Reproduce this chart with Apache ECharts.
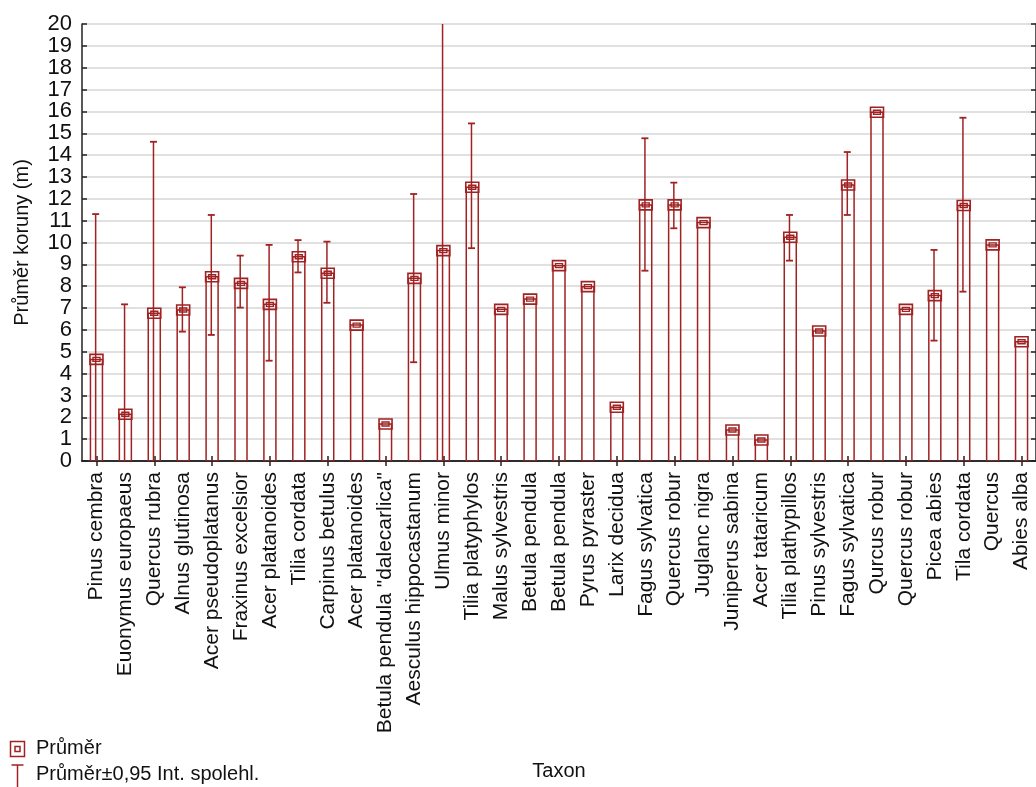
<!DOCTYPE html>
<html>
<head>
<meta charset="utf-8">
<script src="https://cdn.jsdelivr.net/npm/echarts@6/dist/echarts.min.js"></script>
<style>
html,body{margin:0;padding:0;background:#fff;}
#c{width:1036px;height:787px;}
</style>
</head>
<body>
<div id="c"></div>
<script>
// ---- data ----
var categories = ["Pinus cembra","Euonymus europaeus","Quercus rubra","Alnus glutinosa","Acer pseudoplatanus","Fraxinus excelsior","Acer platanoides","Tilia cordata","Carpinus betulus","Acer platanoides","Betula pendula \"dalecarlica\"","Aesculus hippocastanum","Ulmus minor","Tilia platyphylos","Malus sylvestris","Betula pendula","Betula pendula","Pyrus pyraster","Larix decidua","Fagus sylvatica","Quercus robur","Juglanc nigra","Juniperus sabina","Acer tataricum","Tilia plathypillos","Pinus sylvestris","Fagus sylvatica","Qurcus robur","Quercus robur","Picea abies","Tila cordata","Quercus","Abies alba"];
var means = [4.65,2.14,6.76,6.91,8.43,8.13,7.17,9.35,8.59,6.22,1.69,8.36,9.63,12.53,6.94,7.41,8.94,7.98,2.46,11.72,11.72,10.91,1.42,0.96,10.24,5.95,12.63,15.96,6.94,7.57,11.69,9.89,5.46];
var ciLow = [-2.0,-2.9,-1.1,5.92,5.77,7.02,4.59,8.63,7.24,null,null,4.52,-5.7,9.74,null,null,null,null,null,8.71,10.65,null,null,null,9.17,null,11.26,null,null,5.51,7.75,null,null];
var ciHigh = [11.3,7.17,14.61,7.95,11.26,9.40,9.89,10.11,10.04,null,null,12.22,25.0,15.45,null,null,null,null,null,14.77,12.74,null,null,null,11.26,null,14.14,null,null,9.66,15.71,null,null];
var yTicks = [0,1,2,3,4,5,6,7,8,9,10,11,12,13,14,15,16,17,18,19,20];

var C = '#a02222';
var FONT = "'Liberation Sans', Arial, sans-serif";

var meanData = means.map(function(m,i){return [i,m];});
var ciData = [];
for (var i=0;i<means.length;i++){ if(ciLow[i]!==null && ciHigh[i]!==null) ciData.push([i,ciLow[i],ciHigh[i]]); }

var chart = echarts.init(document.getElementById('c'));
var option = {
  animation:false,
  backgroundColor:'#fff',
  grid:{left:82, top:24, width:957, height:437, containLabel:false},
  xAxis:[{
    type:'category', data:categories, position:'bottom',
    boundaryGap:true,
    axisLine:{show:true, lineStyle:{color:'#222', width:1.5}},
    axisTick:{show:true, inside:true, interval:1, alignWithLabel:true, length:5, lineStyle:{color:'#222', width:1.5}},
    axisLabel:{interval:0, rotate:90, margin:11, fontSize:21, color:'#111', fontFamily:FONT},
    splitLine:{show:false},
    name:'Taxon', nameLocation:'middle', nameGap:300,
    nameTextStyle:{fontSize:20, color:'#111', fontFamily:FONT}
  },{
    type:'category', data:categories, position:'top',
    boundaryGap:true,
    axisLine:{show:true, lineStyle:{color:'#222', width:1.5}},
    axisTick:{show:true, inside:true, interval:1, alignWithLabel:true, length:5, lineStyle:{color:'#222', width:1.5}},
    axisLabel:{show:false}, splitLine:{show:false}
  }],
  yAxis:[{
    type:'value', min:0, max:20, interval:1, position:'left',
    axisLine:{show:true, lineStyle:{color:'#222', width:1.5}},
    axisTick:{show:true, inside:true, length:5, lineStyle:{color:'#222', width:1.5}},
    axisLabel:{margin:10, fontSize:22, color:'#111', fontFamily:FONT,
      formatter:function(v){return yTicks.indexOf(v)>=0 ? String(v) : '';}},
    splitLine:{show:true, lineStyle:{color:'#d6d6d6', width:1.5}},
    name:'Průměr koruny (m)', nameLocation:'middle', nameRotate:90, nameGap:50,
    nameTextStyle:{fontSize:20, color:'#111', fontFamily:FONT}
  },{
    type:'value', min:0, max:20, interval:1, position:'right',
    axisLine:{show:true, lineStyle:{color:'#222', width:1.5}},
    axisTick:{show:true, inside:true, length:5, lineStyle:{color:'#222', width:1.5}},
    axisLabel:{show:false}, splitLine:{show:false}
  }],
  series:[{
    name:'Průměr', type:'custom', xAxisIndex:0, yAxisIndex:0, clip:true,
    data:meanData,
    renderItem:function(params, api){
      var idx = api.value(0), m = api.value(1);
      var base = api.coord([idx,0]), top = api.coord([idx,m]);
      var w = 12;
      return {type:'group', children:[
        {type:'rect', shape:{x:base[0]-w/2, y:top[1], width:w, height:base[1]-top[1]},
          style:{fill:'none', stroke:C, lineWidth:1.5}},
        {type:'rect', shape:{x:top[0]-6.5, y:top[1]-5, width:13, height:10},
          style:{fill:'none', stroke:C, lineWidth:1.6}},
        {type:'rect', shape:{x:top[0]-3.5, y:top[1]-2, width:7, height:4},
          style:{fill:'none', stroke:C, lineWidth:1.4}}
      ]};
    }
  },{
    name:'Průměr±0,95 Int. spolehl.', type:'custom', xAxisIndex:0, yAxisIndex:0, clip:true,
    data:ciData,
    renderItem:function(params, api){
      var idx = api.value(0);
      var lo = api.coord([idx, api.value(1)]), hi = api.coord([idx, api.value(2)]);
      var x = lo[0]-0.8, cw = 3.5;
      return {type:'group', children:[
        {type:'line', shape:{x1:x, y1:lo[1], x2:x, y2:hi[1]}, style:{stroke:C, lineWidth:1.5}},
        {type:'line', shape:{x1:x-cw, y1:lo[1], x2:x+cw, y2:lo[1]}, style:{stroke:C, lineWidth:1.8}},
        {type:'line', shape:{x1:x-cw, y1:hi[1], x2:x+cw, y2:hi[1]}, style:{stroke:C, lineWidth:1.8}}
      ]};
    }
  }],
  graphic:[
    {type:'rect', shape:{x:10.5, y:741.5, width:14, height:15}, style:{fill:'none', stroke:C, lineWidth:1.5}},
    {type:'rect', shape:{x:15, y:746.5, width:5, height:5}, style:{fill:'none', stroke:C, lineWidth:1.5}},
    {type:'text', left:36, top:738, style:{text:'Průměr', fontSize:20, fill:'#111', fontFamily:FONT}},
    {type:'line', shape:{x1:17.5, y1:765, x2:17.5, y2:790}, style:{stroke:C, lineWidth:1.5}},
    {type:'line', shape:{x1:11.5, y1:765, x2:23.5, y2:765}, style:{stroke:C, lineWidth:1.5}},
    {type:'text', left:36, top:764, style:{text:'Průměr±0,95 Int. spolehl.', fontSize:20, fill:'#111', fontFamily:FONT}}
  ]
};
chart.setOption(option);
</script>
</body>
</html>
